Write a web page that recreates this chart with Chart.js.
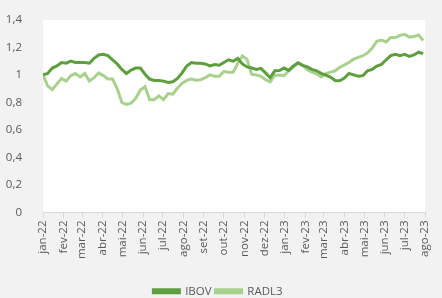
<!DOCTYPE html>
<html>
<head>
<meta charset="utf-8">
<script src="https://cdn.jsdelivr.net/npm/chart.js@4/dist/chart.umd.min.js"></script>
<style>
  html, body { margin: 0; padding: 0; background: #f2f2f2; }
  #wrap { width: 442px; height: 298px; }
</style>
</head>
<body>
<div id="wrap"><canvas id="chart" width="442" height="298"></canvas></div>
<script>
'use strict';

// month ticks: label and day offset from 1 jan 2022
const monthLabels = ['jan-22', 'fev-22', 'mar-22', 'abr-22', 'mai-22', 'jun-22', 'jul-22', 'ago-22', 'set-22', 'out-22',
    'nov-22', 'dez-22', 'jan-23', 'fev-23', 'mar-23', 'abr-23', 'mai-23', 'jun-23', 'jul-23', 'ago-23'];
const monthDays = [0, 31, 59, 90, 120, 151, 181, 212, 243, 273, 304, 334, 365, 396, 424, 455, 485, 516, 546, 577];

const yTicks = [0, 0.2, 0.4, 0.6, 0.8, 1, 1.2, 1.4];

// weekly values (base 1 = start)
const ibov = [1.00, 1.01, 1.05, 1.065, 1.09, 1.085, 1.10, 1.09, 1.09, 1.09,
    1.085, 1.12, 1.145, 1.15, 1.14, 1.11, 1.08, 1.04, 1.01, 1.035,
    1.05, 1.05, 1.005, 0.97, 0.96, 0.96, 0.955, 0.945, 0.95, 0.975,
    1.015, 1.065, 1.09, 1.085, 1.085, 1.08, 1.065, 1.075, 1.07, 1.09,
    1.11, 1.10, 1.12, 1.08, 1.058, 1.05, 1.04, 1.048, 1.015, 0.98,
    1.03, 1.032, 1.05, 1.033, 1.065, 1.088, 1.07, 1.058, 1.04, 1.03,
    1.012, 0.998, 0.984, 0.96, 0.958, 0.977, 1.01, 1.00, 0.99, 0.995,
    1.03, 1.04, 1.065, 1.077, 1.11, 1.14, 1.15, 1.14, 1.15, 1.135,
    1.145, 1.165, 1.155];
const radl3 = [1.00, 0.92, 0.893, 0.935, 0.975, 0.955, 0.995, 1.01, 0.985, 1.01,
    0.955, 0.98, 1.015, 0.995, 0.97, 0.97, 0.90, 0.80, 0.785, 0.795,
    0.83, 0.89, 0.915, 0.82, 0.82, 0.848, 0.82, 0.865, 0.86, 0.905,
    0.94, 0.96, 0.97, 0.962, 0.965, 0.98, 1.00, 0.99, 0.99, 1.025,
    1.02, 1.02, 1.085, 1.138, 1.113, 1.005, 1.00, 0.99, 0.965, 0.95,
    0.998, 1.00, 0.995, 1.03, 1.058, 1.085, 1.07, 1.037, 1.02, 1.008,
    0.985, 1.01, 1.02, 1.03, 1.055, 1.073, 1.09, 1.115, 1.128, 1.14,
    1.16, 1.195, 1.245, 1.253, 1.24, 1.272, 1.272, 1.288, 1.295, 1.275,
    1.28, 1.29, 1.25];

const textClr = '#595959';
const axisClr = '#d9d9d9';
const font = { family: 'Open Sans', size: 11.5 };

const toPoints = arr => arr.map((v, i) => ({ x: Math.min(i * 7, 577), y: v }));

const plotBg = {
    id: 'plotBg',
    beforeDraw(chart) {
        const { ctx, chartArea: a } = chart;
        ctx.save();
        ctx.fillStyle = '#ffffff';
        ctx.fillRect(a.left, a.top, a.right - a.left, a.bottom - a.top);
        ctx.restore();
    },
};

new Chart(document.getElementById('chart'), {
    type: 'line',
    data: {
        datasets: [
            { label: 'IBOV', data: toPoints(ibov), borderColor: '#5e9e3e', backgroundColor: '#5e9e3e', borderWidth: 3, pointRadius: 0, tension: 0 },
            { label: 'RADL3', data: toPoints(radl3), borderColor: '#a9d18e', backgroundColor: '#a9d18e', borderWidth: 3, pointRadius: 0, tension: 0 },
        ],
    },
    options: {
        responsive: false, animation: false,
        layout: { padding: { top: 17, right: 6, left: 0, bottom: -9 } },
        plugins: {
            tooltip: { enabled: false },
            legend: {
                position: 'bottom',
                labels: { color: textClr, font: { family: 'Open Sans', size: 11.5 }, boxWidth: 26, boxHeight: 3, padding: 4 },
            },
        },
        scales: {
            x: {
                type: 'linear', min: 0, max: 577,
                afterBuildTicks: s => { s.ticks = monthDays.map(d => ({ value: d })); },
                afterFit: s => { s.height = 69; },
                grid: { drawOnChartArea: false, drawTicks: true, tickLength: 5, color: axisClr },
                border: { display: true, color: axisClr },
                ticks: {
                    color: textClr, font, autoSkip: false, maxRotation: 90, minRotation: 90, padding: 3,
                    callback: (v, i) => monthLabels[i],
                },
            },
            y: {
                min: 0, max: 1.4,
                afterBuildTicks: s => { s.ticks = yTicks.map(v => ({ value: v })); },
                afterFit: s => { s.width = 43; },
                grid: { display: false },
                border: { display: false },
                ticks: {
                    color: textClr, font, padding: 13,
                    callback: v => String(Number(v.toFixed(1))).replace('.', ','),
                },
            },
        },
    },
    plugins: [plotBg],
});
</script>
</body>
</html>
